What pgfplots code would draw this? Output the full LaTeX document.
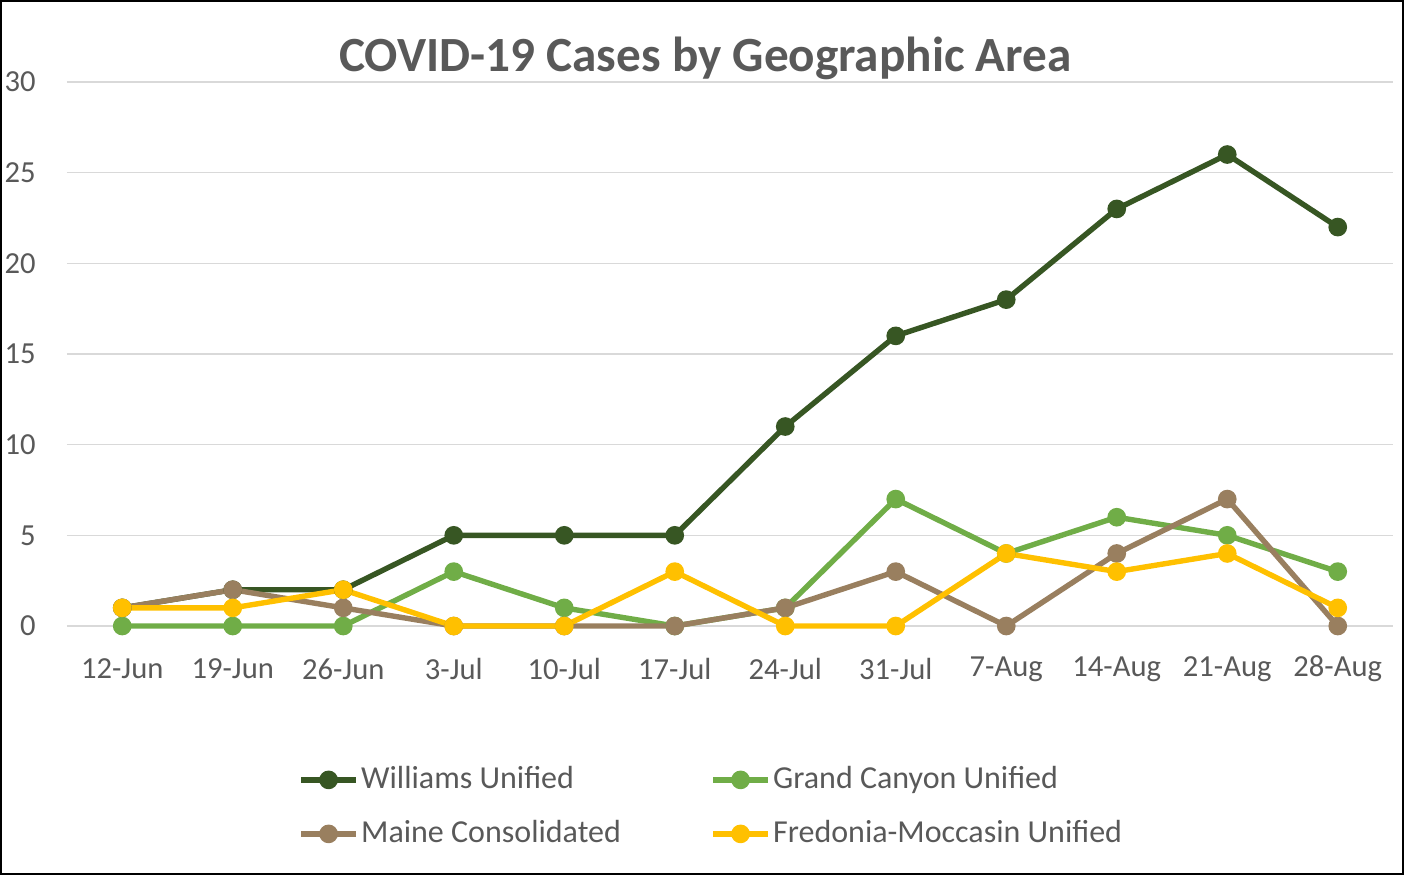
\documentclass[border=0pt]{standalone}
\usepackage{fontspec}
\setmainfont{Carlito}
\usepackage{pgfplots}
\pgfplotsset{compat=1.18}
\definecolor{txt}{HTML}{595959}
\definecolor{grd}{HTML}{D9D9D9}
\definecolor{cWil}{HTML}{375623}
\definecolor{cGC}{HTML}{70AD47}
\definecolor{cMa}{HTML}{997F5F}
\definecolor{cFr}{HTML}{FFC000}
\begin{document}
\begin{tikzpicture}
\path[use as bounding box] (-33.5pt,-124.5pt) rectangle (668.5pt,313pt);
\draw[black, line width=1pt] (-33pt,-124pt) rectangle (668pt,312.5pt);
\begin{axis}[
  scale only axis,
  width=663pt, height=272pt,
  at={(0,0)}, anchor=south west,
  xmin=-0.5, xmax=11.5, ymin=0, ymax=30,
  axis line style={draw=none},
  ytick={0,5,...,30},
  xtick={0,...,11},
  xticklabels={12-Jun,19-Jun,26-Jun,3-Jul,10-Jul,17-Jul,24-Jul,31-Jul,7-Aug,14-Aug,21-Aug,28-Aug},
  major tick length=0pt,
  ymajorgrids,
  grid style={grd, line width=0.8pt},
  /pgf/number format/assume math mode=true,
  tick label style={font=\fontsize{15.3pt}{18pt}\selectfont, text=txt, inner sep=0pt},
  yticklabel style={anchor=east, xshift=-15.5pt},
  xticklabel style={anchor=center, yshift=-21.5pt},
  title={COVID-19 Cases by Geographic Area},
  title style={at={(0.4815,1.022)}, anchor=center, inner sep=0pt, font=\fontsize{24.6pt}{28pt}\selectfont\bfseries, text=txt},
  clip=false,
  every axis plot/.append style={line width=2.7pt, mark=*, mark size=3.3pt},
  legend columns=2,
  legend cell align=left,
  legend image code/.code={\draw[mark repeat=2,mark phase=2,#1] plot coordinates {(0pt,0pt) (13.75pt,0pt) (27.5pt,0pt)};},
  legend style={at={(0.1742,-0.3325)}, anchor=west, draw=none, fill=none, inner sep=0pt,
    font=\fontsize{16pt}{19pt}\selectfont, text=txt,
    nodes={inner xsep=1.2pt, inner ysep=0pt, text height=11.5pt, text depth=3pt},
    row sep=12.5pt,
    /tikz/column 2/.style={column sep=43.5pt}},
]
\addplot[cWil, mark options={fill=cWil, draw=cWil}] coordinates {(0,1)(1,2)(2,2)(3,5)(4,5)(5,5)(6,11)(7,16)(8,18)(9,23)(10,26)(11,22)};
\addlegendentry{Williams Unified}
\addplot[cGC, mark options={fill=cGC, draw=cGC}] coordinates {(0,0)(1,0)(2,0)(3,3)(4,1)(5,0)(6,1)(7,7)(8,4)(9,6)(10,5)(11,3)};
\addlegendentry{Grand Canyon Unified}
\addplot[cMa, mark options={fill=cMa, draw=cMa}] coordinates {(0,1)(1,2)(2,1)(3,0)(4,0)(5,0)(6,1)(7,3)(8,0)(9,4)(10,7)(11,0)};
\addlegendentry{Maine Consolidated}
\addplot[cFr, mark options={fill=cFr, draw=cFr}] coordinates {(0,1)(1,1)(2,2)(3,0)(4,0)(5,3)(6,0)(7,0)(8,4)(9,3)(10,4)(11,1)};
\addlegendentry{Fredonia-Moccasin Unified}
\end{axis}
\end{tikzpicture}
\end{document}
